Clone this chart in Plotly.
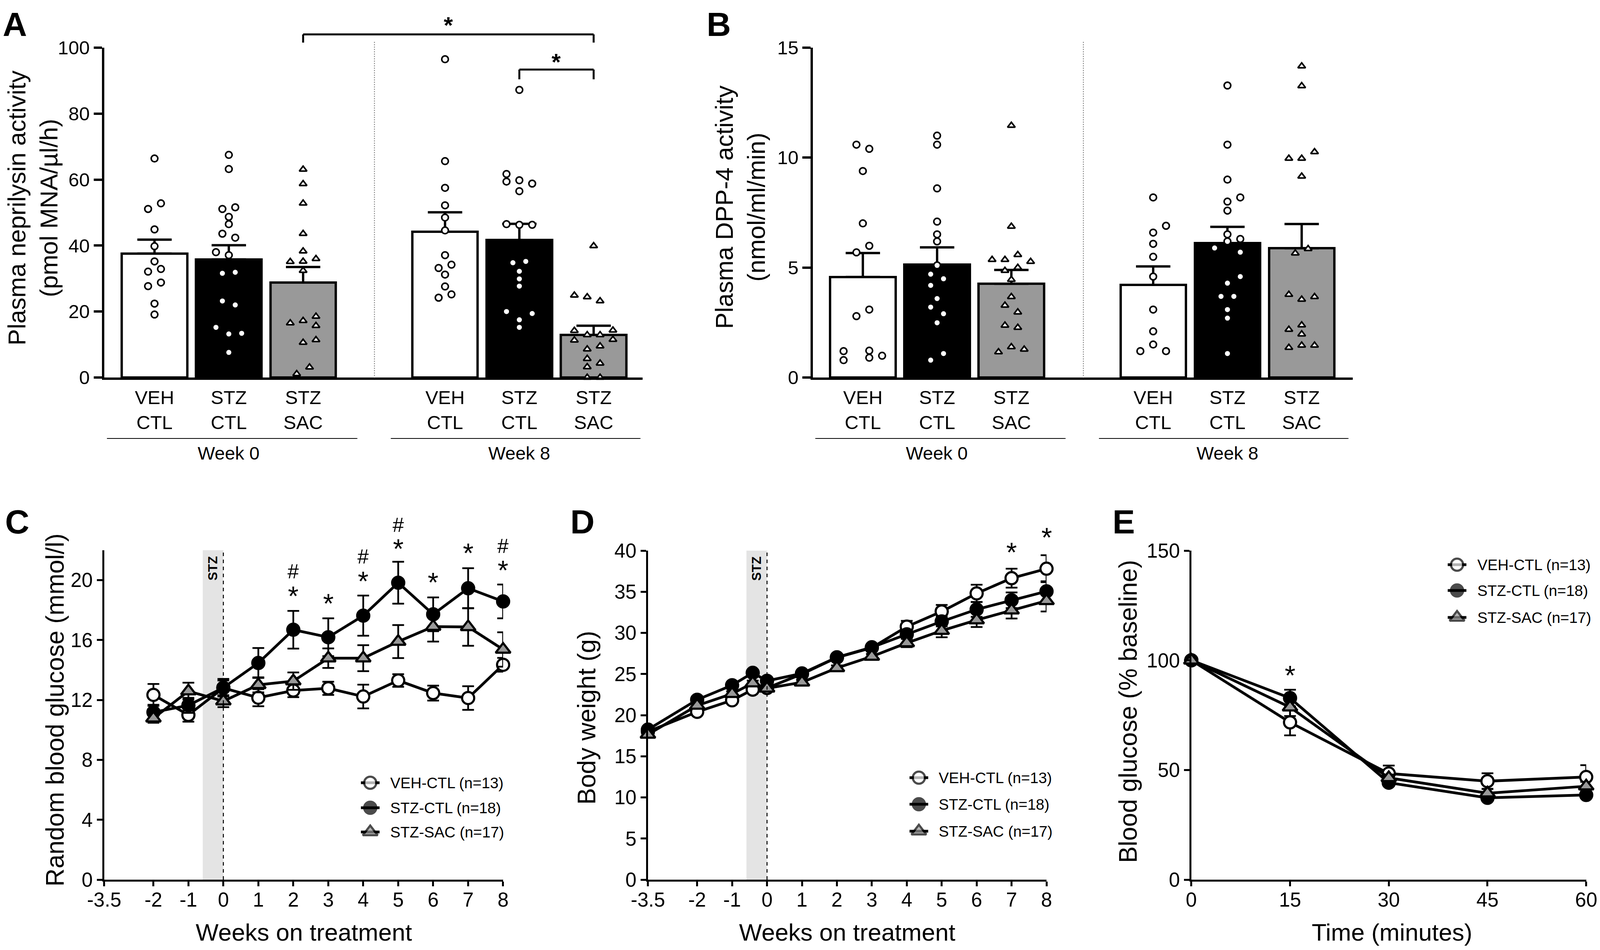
import plotly.graph_objects as go

W, H = 4287, 2431
PAGE = 8  # body margin of the html page
VISIBLE_W = 4096  # width of the page that the photograph actually shows
FIG_W, FIG_H = VISIBLE_W - 2 * PAGE, H - 2 * PAGE
FONT = "Liberation Sans, Arial, sans-serif"

# --- panel A / B data ---
bar_labels = ["VEH<br>CTL", "STZ<br>CTL", "STZ<br>SAC", "VEH<br>CTL", "STZ<br>CTL", "STZ<br>SAC"]
bar_pos = [1, 2, 3, 4.91, 5.91, 6.91]
bar_colors = ["white", "black", "#999999", "white", "black", "#999999"]
bar_symbols = ["circle", "circle", "triangle-up", "circle", "circle", "triangle-up"]

a_means = [37.6, 35.8, 28.8, 44.2, 41.7, 12.9]
a_sem = [4.2, 4.3, 4.7, 5.9, 4.9, 2.8]
a_points = [
    [66.4, 52.8, 51.1, 44.9, 39.8, 35.2, 32.9, 32.1, 28.8, 27.7, 22.4, 19.1],
    [67.5, 63.2, 51.6, 51.1, 48.7, 46.5, 43.6, 42.4, 38.0, 37.1, 31.6, 31.9, 23.2, 22.0, 15.2, 13.2, 13.4, 7.6],
    [63.1, 58.7, 52.8, 43.6, 38.3, 35.1, 35.2, 36.0, 32.4, 18.5, 16.5, 17.2, 15.7, 11.4, 10.6, 3.1, 1.1],
    [96.5, 65.6, 57.5, 52.2, 48.5, 44.6, 37.1, 34.2, 33.2, 31.2, 27.6, 25.2, 24.2],
    [87.2, 61.7, 59.4, 59.8, 58.8, 56.5, 46.5, 46.3, 46.3, 34.8, 35.2, 32.2, 29.9, 27.7, 20.0, 19.4, 17.5, 15.2],
    [39.9, 24.9, 24.4, 23.2, 14.2, 14.3, 12.9, 12.9, 11.3, 11.5, 9.5, 8.6, 5.7, 4.3, 3.2, 0, 0],
]
a_jitter = [
    [0, 1, -1, 0, 0, 0, 1, -1, 1, -1, 0, 0],
    [0, 0, 1, -1, 0, 0, -1, 1, -2, 0, -1, 1, -1, 1, -2, 0, 2, 0],
    [0, 0, 0, 0, 0, -2, 0, 2, 0, 2, -2, 0, 2, 2, 0, 1, -1],
    [0, 0, 0, 0, 0, 0, 0, 1, -1, 0, 0, 1, -1],
    [0, -2, -2, 0, 2, 0, -2, 0, 2, -1, 1, 0, 0, 0, -2, 2, 0, 0],
    [0, -3, -1, 1, -3, 3, -1, 1, -3, 3, 1, -1, -1, 1, -1, -1, 1],
]

b_means = [4.57, 5.13, 4.26, 4.21, 6.11, 5.88]
b_sem = [1.09, 0.79, 0.63, 0.84, 0.74, 1.10]
b_points = [
    [10.59, 10.40, 9.39, 7.01, 5.99, 5.69, 2.79, 3.09, 1.20, 1.22, 0.79, 0.90, 0.99],
    [11.0, 10.59, 8.6, 7.09, 6.51, 6.19, 5.10, 4.70, 4.49, 4.19, 3.59, 3.20, 2.90, 2.49, 1.09, 0.79],
    [11.46, 6.87, 5.58, 5.36, 5.36, 5.27, 5.0, 4.86, 4.45, 3.67, 3.28, 2.97, 2.37, 2.27, 1.39, 1.16, 1.28],
    [8.19, 6.90, 6.59, 6.08, 5.49, 4.59, 3.09, 2.10, 1.50, 1.20, 1.20],
    [13.28, 10.59, 9.0, 8.0, 8.19, 7.59, 6.51, 6.30, 6.19, 5.89, 5.70, 4.59, 4.29, 3.69, 3.69, 3.09, 2.70, 1.09],
    [14.16, 13.26, 10.26, 9.96, 9.96, 9.15, 5.85, 5.65, 3.77, 3.55, 3.67, 2.38, 2.18, 1.97, 1.46, 1.46, 1.36],
]
b_jitter = [
    [-1, 1, 0, 0, 1, -1, -1, 1, -3, 1, -3, 1, 3],
    [0, 0, 0, 0, 0, 0, 0, -1, 1, -1, 0, -1, 1, 0, 1, -1],
    [0, 0, 1, -3, -1, 3, 1, -1, 0, 0, -1, 1, -1, 1, 0, -2, 2],
    [0, 2, 0, 0, 0, 0, 0, 0, 0, -2, 2],
    [0, 0, 0, 0, 2, 0, 0, 2, 0, -2, 2, 2, 0, -1, 1, 0, 0, 0],
    [0, 0, 2, -2, 0, 0, 1, -1, -2, 0, 2, 0, -2, 0, 0, 2, -2],
]

# --- panel C data ---
series_names = ["VEH-CTL (n=13)", "STZ-CTL (n=18)", "STZ-SAC (n=17)"]
c_x = [-2, -1, 0, 1, 2, 3, 4, 5, 6, 7, 8]
c_veh = [12.34, 11.0, 12.8, 12.15, 12.63, 12.78, 12.23, 13.3, 12.46, 12.13, 14.35]
c_veh_err = [0.73, 0.45, 0.5, 0.57, 0.44, 0.44, 0.79, 0.42, 0.5, 0.79, 0.46]
c_stz = [11.18, 11.64, 12.82, 14.47, 16.69, 16.19, 17.63, 19.83, 17.72, 19.46, 18.58]
c_stz_err = [0.5, 0.5, 0.59, 1.0, 1.26, 1.26, 1.34, 1.4, 1.13, 1.34, 1.13]
c_sac = [10.78, 12.59, 11.92, 13.01, 13.26, 14.79, 14.79, 15.9, 16.9, 16.88, 15.37]
c_sac_err = [0.3, 0.56, 0.4, 0.5, 0.58, 0.65, 0.87, 1.1, 1.0, 1.26, 1.15]
c_star_x = [2, 3, 4, 5, 6, 7, 8]
c_star_y = [19.1, 18.6, 20.1, 22.26, 20.02, 21.97, 20.82]
c_hash_x = [2, 4, 5, 8]
c_hash_y = [20.6, 21.59, 23.69, 22.3]

# --- panel D data ---
d_x = [-3.41, -2, -1, -0.41, 0, 1, 2, 3, 4, 5, 6, 7, 8]
d_veh = [18.0, 20.4, 21.8, 23.1, 23.3, 25.0, 27.0, 28.2, 30.76, 32.6, 34.8, 36.65, 37.8]
d_veh_err = [0.3, 0.3, 0.3, 0.3, 0.3, 0.3, 0.3, 0.3, 0.7, 0.8, 1.05, 1.15, 1.64]
d_stz = [18.24, 21.87, 23.64, 25.14, 24.17, 25.07, 27.03, 28.25, 29.82, 31.39, 32.85, 33.97, 35.05]
d_stz_err = [0.3, 0.3, 0.3, 0.3, 0.3, 0.3, 0.3, 0.3, 0.4, 0.6, 0.9, 0.95, 1.22]
d_sac = [17.65, 21.17, 22.6, 23.89, 23.26, 23.99, 25.74, 27.13, 28.77, 30.27, 31.56, 32.75, 33.9]
d_sac_err = [0.3, 0.3, 0.3, 0.3, 0.3, 0.3, 0.3, 0.3, 0.5, 0.8, 0.85, 1.0, 1.3]
d_star_x = [7, 8]
d_star_y = [40.1, 41.9]

# --- panel E data ---
e_x = [0, 15, 30, 45, 60]
e_veh = [100, 71.7, 48.4, 44.9, 46.8]
e_veh_err = [0, 5.9, 3.6, 3.6, 5.4]
e_stz = [100, 82.8, 44.2, 37.3, 38.6]
e_stz_err = [0, 3.8, 1.5, 1.5, 1.5]
e_sac = [100, 78.6, 46.4, 39.4, 42.6]
e_sac_err = [0, 4, 1.5, 2, 2]
e_star_x = [15]
e_star_y = [94.2]

week_ticks = [-3.41, -2, -1, 0, 1, 2, 3, 4, 5, 6, 7, 8]
week_labels = ["-3.5", "-2", "-1", "0", "1", "2", "3", "4", "5", "6", "7", "8"]
time_labels = ["0", "15", "30", "45", "60"]

# pixel box of each panel in the reference: x0, x1, y top, y bottom
BOX = {
    1: (279, 1722, 122, 966),
    2: (2178, 3625, 122, 966),
    3: (279, 1348, 1408, 2251),
    4: (1736, 2804, 1409, 2251),
    5: (3192, 4250, 1409, 2251),
}
Y_RANGE = {1: (0, 100), 2: (0, 15), 3: (0, 22), 4: (0, 40), 5: (0, 150)}


def fx(p):
    return (p * VISIBLE_W / W - PAGE) / FIG_W


def fy(p):
    return 1 - (p - PAGE) / FIG_H


def paper_y(n, value):
    # axis value to paper, for marks above the top of an axis
    top, bottom = BOX[n][2], BOX[n][3]
    lo, hi = Y_RANGE[n]
    return fy(bottom - (value - lo) / (hi - lo) * (bottom - top))


fig = go.Figure()


def label(text, x, y, size, bold=False, angle=0, xref="paper", yref="paper", yshift=0, anchor="center"):
    fig.add_annotation(
        text=f"<b>{text}</b>" if bold else text,
        x=x, y=y, xref=xref, yref=yref, xanchor=anchor, yanchor="middle",
        showarrow=False, textangle=angle, yshift=yshift,
        font=dict(family=FONT, size=size, color="black"),
    )


def line(x0, y0, x1, y1, xref="paper", width=5, color="black", dash="solid", layer="above", yref="paper"):
    fig.add_shape(type="line", x0=x0, y0=y0, x1=x1, y1=y1, xref=xref, yref=yref,
                  layer=layer, line=dict(color=color, width=width, dash=dash))


def add_axes(n, xr, yticks, xticks, xticktext, ylen, xlen, lw, standoff, size, show_xticks=True):
    xname = "xaxis" if n == 1 else f"xaxis{n}"
    yname = "yaxis" if n == 1 else f"yaxis{n}"
    x0, x1, top, bottom = BOX[n]
    fig.update_layout({
        xname: dict(
            domain=[fx(x0), fx(x1)], range=xr, anchor=f"y{n if n > 1 else ''}",
            tickmode="array", tickvals=xticks, ticktext=xticktext, ticklabeloverflow="allow",
            ticks="outside" if show_xticks else "", ticklen=xlen, tickwidth=lw, tickcolor="black",
            showline=True, linecolor="black", linewidth=lw, showgrid=False, zeroline=False,
            ticklabelstandoff=standoff, tickfont=dict(family=FONT, size=size, color="black"),
        ),
        yname: dict(
            domain=[fy(bottom), fy(top)], range=list(Y_RANGE[n]), anchor=f"x{n if n > 1 else ''}",
            tickmode="array", tickvals=yticks,
            ticks="outside", ticklen=ylen, tickwidth=lw, tickcolor="black",
            showline=True, linecolor="black", linewidth=lw, showgrid=False, zeroline=False,
            tickfont=dict(family=FONT, size=size, color="black"),
        ),
    })


def add_bar_panel(n, means, sem, points, jitter):
    xa = "x" if n == 1 else f"x{n}"
    ya = "y" if n == 1 else f"y{n}"
    fig.add_trace(go.Bar(
        x=bar_pos, y=means, width=0.88, xaxis=xa, yaxis=ya, showlegend=False,
        marker=dict(color=bar_colors, line=dict(color="black", width=6)),
        error_y=dict(type="data", symmetric=False, array=sem, arrayminus=[0] * len(sem),
                     color="black", thickness=6, width=44),
    ))
    for i in range(len(points)):
        fig.add_trace(go.Scatter(
            x=[bar_pos[i] + j * 0.0865 for j in jitter[i]], y=points[i], xaxis=xa, yaxis=ya,
            mode="markers", showlegend=False, cliponaxis=False,
            marker=dict(symbol=bar_symbols[i], size=17, color="white", line=dict(color="black", width=4)),
        ))


LINE_STYLES = [("circle", "white", 31), ("circle", "black", 31), ("triangle-up", "#999999", 33)]


def add_line_panel(n, x, means, errs):
    for name, y, e, (sym, col, size) in zip(series_names, means, errs, LINE_STYLES):
        fig.add_trace(go.Scatter(
            x=x, y=y, xaxis=f"x{n}", yaxis=f"y{n}", mode="lines+markers", name=name,
            showlegend=False, cliponaxis=False,
            line=dict(color="black", width=7),
            marker=dict(symbol=sym, size=size, color=col, line=dict(color="black", width=5.5)),
            error_y=dict(type="data", array=e, color="black", thickness=4.5, width=15),
        ))


def add_key(center_px, text_px, rows_px):
    # legend keys sit on a hidden full-page axis, since the native legend caps marker size
    for name, row, (sym, col, size) in zip(series_names, rows_px, LINE_STYLES):
        fig.add_trace(go.Scatter(
            x=[center_px - 25, center_px, center_px + 25], y=[row, row, row],
            xaxis="x6", yaxis="y6", mode="lines+markers", showlegend=False, cliponaxis=False,
            line=dict(color="black", width=7),
            marker=dict(symbol=sym, size=[0, size, 0], color=col,
                        line=dict(color="black", width=[0, 5.5, 0])),
        ))
        label(name, fx(text_px), fy(row), 39, anchor="left")


# --- bars ---
add_axes(1, [0.322, 7.57], [0, 20, 40, 60, 80, 100], bar_pos, bar_labels, 21, 0, 6, 3, 49, show_xticks=False)
add_axes(2, [0.327, 7.6], [0, 5, 10, 15], bar_pos, bar_labels, 21, 0, 6, 3, 49, show_xticks=False)
add_bar_panel(1, a_means, a_sem, a_points, a_jitter)
add_bar_panel(2, b_means, b_sem, b_points, b_jitter)

# --- lines ---
add_axes(3, [-3.41, 8], [0, 4, 8, 12, 16, 20], week_ticks, week_labels, 14, 12, 5, -9, 51)
add_axes(4, [-3.41, 8], [0, 5, 10, 15, 20, 25, 30, 35, 40], week_ticks, week_labels, 14, 12, 5, -9, 51)
add_axes(5, [0, 60], [0, 50, 100, 150], e_x, time_labels, 14, 12, 5, -9, 51)
add_line_panel(3, c_x, [c_veh, c_stz, c_sac], [c_veh_err, c_stz_err, c_sac_err])
add_line_panel(4, d_x, [d_veh, d_stz, d_sac], [d_veh_err, d_stz_err, d_sac_err])
add_line_panel(5, e_x, [e_veh, e_stz, e_sac], [e_veh_err, e_stz_err, e_sac_err])

# --- legends ---
add_key(992, 1043, [2003, 2067, 2129])
add_key(2462, 2513, [1990, 2058, 2127])
add_key(3904, 3956, [1445, 1511, 1580])

# --- separators, brackets, group lines ---
for xa, xpos in (("x", 3.96), ("x2", 3.97)):
    line(xpos, fy(107), xpos, fy(969), xref=xa, width=2, color="#777777", dash="dot")
    line(0.36, fy(1122), 3.73, fy(1122), xref=xa, width=2)
    line(4.18, fy(1122), 7.54, fy(1122), xref=xa, width=2)
    label("Week 0", 2, fy(1159), 47, xref=xa)
    label("Week 8", 5.91, fy(1159), 47, xref=xa)

line(3, fy(109), 3, fy(88), xref="x")
line(3, fy(88), 6.91, fy(88), xref="x")
line(6.91, fy(88), 6.91, fy(109), xref="x")
line(5.91, fy(203), 5.91, fy(178), xref="x")
line(5.91, fy(178), 6.91, fy(178), xref="x")
line(6.91, fy(178), 6.91, fy(203), xref="x")
label("*", fx(1202), fy(57), 60, bold=True, yshift=-8)
label("*", fx(1490), fy(151), 60, bold=True, yshift=-8)

# --- STZ band ---
for n in (3, 4):
    fig.add_shape(type="rect", x0=-0.59, x1=0, y0=0, y1=1, xref=f"x{n}", yref=f"y{n} domain",
                  fillcolor="#e4e4e4", line=dict(width=0), layer="below")
    line(0, 0, 0, 1, xref=f"x{n}", yref=f"y{n} domain", width=2.5, dash="dash")
    label("STZ", -0.31, 0.945, 33, bold=True, angle=-90, xref=f"x{n}", yref=f"y{n} domain")

# --- significance marks ---
for i in range(len(c_star_x)):
    label("*", c_star_x[i], paper_y(3, c_star_y[i]), 70, xref="x3", yshift=-7)
for i in range(len(c_hash_x)):
    label("#", c_hash_x[i], paper_y(3, c_hash_y[i]), 52, xref="x3")
for i in range(len(d_star_x)):
    label("*", d_star_x[i], paper_y(4, d_star_y[i]), 70, xref="x4", yshift=-7)
for i in range(len(e_star_x)):
    label("*", e_star_x[i], paper_y(5, e_star_y[i]), 70, xref="x5", yshift=-7)

# --- axis titles ---
label("Plasma neprilysin activity<br>(pmol MNA/µl/h)", fx(88), fy(532), 63, angle=-90)
label("Plasma DPP-4 activity<br>(nmol/ml/min)", fx(1983), fy(530), 63, angle=-90)
label("Random blood glucose (mmol/l)", fx(148), fy(1816), 64, angle=-90)
label("Body weight (g)", fx(1572), fy(1836), 64, angle=-90)
label("Blood glucose (% baseline)", fx(3023), fy(1820), 64, angle=-90)
label("Weeks on treatment", fx(814), fy(2385), 62)
label("Weeks on treatment", fx(2270), fy(2385), 62)
label("Time (minutes)", fx(3730), fy(2385), 62)

# --- panel letters ---
label("A", fx(40), fy(62), 86, bold=True)
label("B", fx(1926), fy(62), 86, bold=True)
label("C", fx(46), fy(1335), 86, bold=True)
label("D", fx(1561), fy(1335), 86, bold=True)
label("E", fx(3011), fy(1335), 86, bold=True)

fig.update_layout(
    width=FIG_W, height=FIG_H, margin=dict(l=0, r=0, t=0, b=0, autoexpand=False),
    paper_bgcolor="white", plot_bgcolor="rgba(0,0,0,0)",
    font=dict(family=FONT, color="black"), bargap=0, showlegend=False,
    xaxis6=dict(domain=[0, 1], range=[PAGE * W / VISIBLE_W, (PAGE + FIG_W) * W / VISIBLE_W],
                visible=False, anchor="y6"),
    yaxis6=dict(domain=[0, 1], range=[PAGE + FIG_H, PAGE], visible=False, anchor="x6"),
)

fig.write_html("out.html")
